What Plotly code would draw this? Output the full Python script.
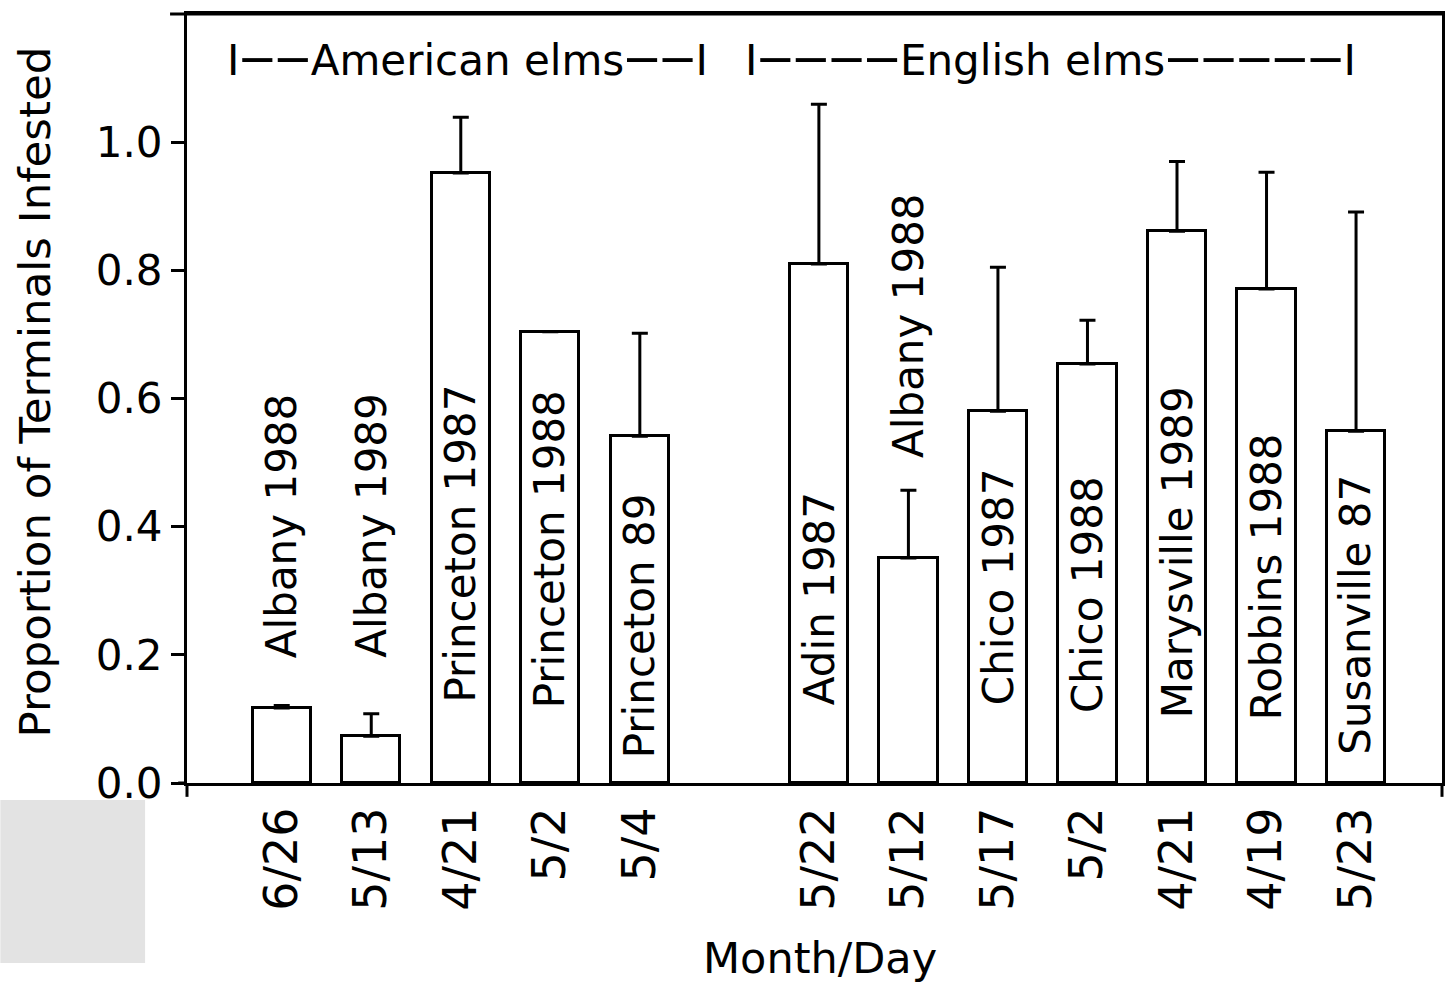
import plotly.graph_objects as go

# Sites, sampling dates and infestation proportions (mean, upper error)
sites = ["Albany 1988", "Albany 1989", "Princeton 1987", "Princeton 1988", "Princeton 89",
         "Adin 1987", "Albany 1988", "Chico 1987", "Chico 1988", "Marysville 1989",
         "Robbins 1988", "Susanville 87"]
dates = ["6/26", "5/13", "4/21", "5/2", "5/4",
         "5/22", "5/12", "5/17", "5/2", "4/21", "4/19", "5/23"]
slots = [0, 1, 2, 3, 4, 6, 7, 8, 9, 10, 11, 12]
proportion = [0.117, 0.073, 0.952, 0.704, 0.541,
              0.810, 0.351, 0.580, 0.654, 0.861, 0.771, 0.549]
error_plus = [0.004, 0.035, 0.087, 0.0, 0.161,
              0.249, 0.106, 0.225, 0.068, 0.109, 0.182, 0.342]
y_ticks = [0.0, 0.2, 0.4, 0.6, 0.8, 1.0]

# Where each rotated site name starts (bottom of the text, in axis units)
label_base = [0.192, 0.192, 0.122, 0.114, 0.036,
              0.119, 0.504, 0.119, 0.106, 0.098, 0.095, 0.041]

FONT = "DejaVu Sans"
FS = 42
X_RANGE = [-1.058, 12.96]
Y_RANGE = [0, 1.2]


def dashes(n):
    # long, spaced dashes for the group brackets
    return '<span style="font-size:56px">' + "‒" * n + "</span>"


fig = go.Figure()
fig.add_trace(go.Bar(
    x=slots, y=proportion, width=0.65,
    marker=dict(color="white", line=dict(color="black", width=3)),
    error_y=dict(type="data", symmetric=False, array=error_plus,
                 arrayminus=[0] * len(proportion),
                 color="black", thickness=3, width=8),
    showlegend=False, hoverinfo="skip",
))

for s, name, base in zip(slots, sites, label_base):
    fig.add_annotation(x=s, y=base, text=name, textangle=-90,
                       xanchor="center", yanchor="bottom", showarrow=False,
                       font=dict(family=FONT, size=FS, color="black"))

# Group headings across the top
fig.add_annotation(x=2.07, y=1.136, text="I" + dashes(2) + "American elms" + dashes(2) + "I",
                   showarrow=False, xanchor="center", yanchor="middle",
                   font=dict(family=FONT, size=FS, color="black"))
fig.add_annotation(x=8.59, y=1.136, text="I" + dashes(4) + "English elms" + dashes(5) + "I",
                   showarrow=False, xanchor="center", yanchor="middle",
                   font=dict(family=FONT, size=FS, color="black"))

# Axis titles
fig.add_annotation(xref="paper", yref="paper", x=-0.121, y=0.508,
                   text="Proportion of Terminals Infested", textangle=-90,
                   showarrow=False, xanchor="center", yanchor="middle",
                   font=dict(family=FONT, size=43.5, color="black"))
fig.add_annotation(xref="paper", yref="paper", x=0.504, y=-0.228,
                   text="Month/Day", showarrow=False,
                   xanchor="center", yanchor="middle",
                   font=dict(family=FONT, size=43, color="black"))

# Frame extensions beyond the plot corners
line_style = dict(color="black", width=3)
fig.add_shape(type="line", xref="paper", yref="paper", x0=-0.0135, x1=1, y0=1, y1=1,
              line=line_style)
fig.add_shape(type="line", xref="paper", yref="paper", x0=0, x1=0, y0=0, y1=-0.018,
              line=line_style)
fig.add_shape(type="line", xref="paper", yref="paper", x0=1, x1=1, y0=0, y1=-0.018,
              line=line_style)
fig.add_shape(type="line", xref="paper", yref="paper", x0=-0.007, x1=0, y0=0, y1=0,
              line=line_style)

# Pale grey patch at the lower-left corner of the page
fig.add_shape(type="rect", xref="paper", yref="paper",
              x0=-0.1487, x1=-0.0334, y0=-0.234, y1=-0.0221,
              fillcolor="#e3e3e3", line=dict(width=0), layer="below")

fig.update_layout(
    width=1451, height=983,
    margin=dict(l=187, r=6, t=14, b=200),
    paper_bgcolor="white", plot_bgcolor="white",
    font=dict(family=FONT, size=FS, color="black"),
    xaxis=dict(range=X_RANGE, tickvals=slots, ticktext=dates, tickangle=-90,
               ticks="", showgrid=False, zeroline=False,
               showline=True, linecolor="black", linewidth=3, mirror=True,
               ticklabelstandoff=3,
               tickfont=dict(family=FONT, size=46, color="black")),
    yaxis=dict(range=Y_RANGE, tickvals=y_ticks,
               ticktext=[f"{v:.1f}" for v in y_ticks],
               ticks="outside", ticklen=13, tickwidth=3, tickcolor="black",
               showgrid=False, zeroline=False,
               showline=True, linecolor="black", linewidth=3, mirror=True,
               ticklabelstandoff=0,
               tickfont=dict(family=FONT, size=FS, color="black")),
    yaxis2=dict(range=Y_RANGE, overlaying="y", side="left", anchor="x",
                tickvals=y_ticks, ticks="inside", ticklen=14, tickwidth=3,
                tickcolor="black", showticklabels=False, showgrid=False,
                zeroline=False, showline=False),
    bargap=0,
)

fig.write_html("out.html")
